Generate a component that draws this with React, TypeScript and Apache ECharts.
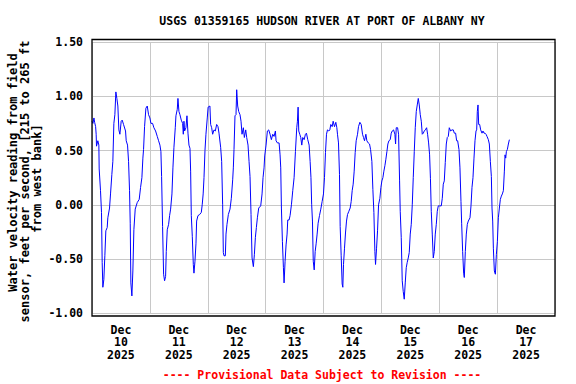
import React, { useEffect, useRef } from "react";
import * as echarts from "echarts";

// Hours since Dec 10 2025 00:00 and water velocity (ft/s)
const HOURS = [
  0.0, 0.4, 0.8, 1.1, 1.5, 1.73, 1.87, 2.42, 2.84, 2.98, 3.53, 3.94, 4.22, 4.5, 4.91, 5.33, 5.74, 6.3, 6.57, 7.27,
  7.68, 8.23, 8.65, 9.07, 9.48, 9.9, 10.31, 10.73, 11.14, 11.56, 12.11, 12.53, 13.08, 13.91, 14.19, 14.74, 15.16, 15.57, 15.85, 16.12,
  16.54, 16.95, 17.37, 17.92, 18.75, 19.58, 20.14, 20.69, 21.1, 21.38, 21.8, 22.35, 22.91, 23.46, 24.01, 24.43, 25.12, 25.67, 26.37, 27.06,
  27.61, 28.17, 28.58, 28.86, 29.27, 29.69, 30.1, 30.52, 30.8, 31.21, 31.77, 32.18, 32.6, 33.15, 33.56, 33.98, 34.53, 34.81, 35.36, 35.64,
  36.05, 36.47, 37.02, 37.58, 37.86, 38.13, 38.41, 38.96, 39.38, 39.8, 40.21, 40.63, 40.9, 41.18, 41.59, 42.01, 42.28, 42.7, 43.11, 43.39,
  43.94, 44.64, 45.33, 45.7, 46.1, 46.45, 46.85, 47.25, 47.8, 48.15, 48.9, 49.2, 49.62, 50.03, 50.59, 51.14, 51.69, 52.25, 52.66, 53.35,
  53.77, 54.18, 54.46, 54.74, 55.29, 55.57, 55.98, 56.54, 57.23, 57.78, 58.34, 58.61, 58.89, 59.3, 59.72, 60.0, 60.41, 60.83, 61.38, 61.8,
  62.21, 62.77, 63.18, 63.74, 64.15, 64.7, 65.12, 65.53, 65.95, 66.37, 66.92, 67.33, 67.75, 68.16, 68.58, 69.13, 69.96, 70.52, 70.93, 71.35,
  71.62, 72.18, 72.73, 73.28, 73.84, 74.39, 74.95, 75.5, 76.05, 76.33, 76.88, 77.58, 77.99, 78.27, 78.55, 78.96, 79.38, 79.65, 80.07, 80.48,
  80.9, 81.18, 81.73, 82.14, 82.7, 83.25, 83.81, 84.36, 84.91, 85.19, 85.47, 85.74, 86.16, 86.57, 86.99, 87.4, 87.96, 88.51, 88.93, 89.48,
  90.04, 90.45, 90.8, 91.1, 91.42, 91.75, 92.15, 92.55, 92.94, 93.36, 93.77, 94.33, 94.88, 95.43, 95.99, 96.41, 96.82, 97.24, 97.65, 98.2,
  98.62, 99.03, 99.59, 100.0, 100.56, 101.11, 101.53, 101.8, 102.22, 102.63, 102.91, 103.33, 103.74, 104.02, 104.29, 104.71, 105.12, 105.54, 105.96, 106.51,
  107.06, 107.48, 107.89, 108.31, 108.72, 109.14, 109.55, 110.11, 110.52, 111.08, 111.63, 112.18, 112.6, 113.01, 113.57, 113.98, 114.54, 115.09, 115.51, 116.06,
  116.48, 116.89, 117.31, 117.58, 118.0, 118.41, 118.83, 119.38, 119.8, 120.21, 120.63, 121.04, 121.46, 121.87, 122.29, 122.7, 123.12, 123.67, 124.09, 124.5,
  125.06, 125.61, 125.89, 126.16, 126.72, 127.13, 127.55, 127.82, 128.24, 128.65, 129.07, 129.48, 129.9, 130.31, 130.73, 131.14, 131.56, 131.97, 132.39, 132.81,
  133.22, 133.64, 134.05, 134.47, 134.88, 135.3, 135.71, 136.13, 136.55, 136.96, 137.38, 137.79, 138.21, 138.76, 139.17, 139.59, 140.0, 140.35, 140.69, 141.11,
  141.52, 141.94, 142.35, 142.77, 143.18, 143.6, 144.15, 144.84, 145.26, 145.67, 146.09, 146.5, 146.92, 147.33, 147.75, 148.16, 148.72, 149.27, 149.83, 150.24,
  150.79, 151.21, 151.63, 152.18, 152.59, 153.01, 153.29, 153.7, 154.12, 154.39, 154.81, 155.22, 155.64, 156.05, 156.75, 157.16, 157.58, 157.99, 158.41, 158.82,
  159.24, 159.52, 159.79, 160.07, 160.35, 160.76, 161.18, 161.73, 162.14, 162.56, 162.98, 163.39, 163.81, 164.36, 164.77, 165.19, 165.61, 165.88, 166.16, 166.44,
  166.85, 167.27, 167.68, 168.1, 168.51, 168.93, 169.34, 169.76, 170.17, 170.59, 171.0, 171.28, 171.56, 171.84, 172.25, 172.67, 173.08,
];

const VELOCITY = [
  0.77, 0.75, 0.8, 0.76, 0.72, 0.65, 0.54, 0.59, 0.55, 0.33, 0.13, -0.07, -0.53, -0.76, -0.69, -0.47, -0.24, -0.21, -0.12, -0.03,
  0.1, 0.28, 0.4, 0.75, 0.83, 1.04, 0.98, 0.91, 0.69, 0.65, 0.77, 0.78, 0.74, 0.68, 0.59, 0.55, 0.4, 0.13, -0.17, -0.72,
  -0.84, -0.61, -0.23, -0.04, 0.02, 0.05, 0.16, 0.25, 0.43, 0.51, 0.72, 0.89, 0.91, 0.83, 0.8, 0.75, 0.75, 0.71, 0.68, 0.63,
  0.59, 0.55, 0.49, 0.26, -0.2, -0.64, -0.7, -0.66, -0.43, -0.23, -0.18, -0.1, -0.04, 0.1, 0.34, 0.53, 0.71, 0.82, 0.88, 0.98,
  0.86, 0.83, 0.78, 0.75, 0.65, 0.77, 0.68, 0.71, 0.82, 0.66, 0.55, 0.52, 0.31, -0.1, -0.29, -0.55, -0.63, -0.52, -0.36, -0.15,
  -0.1, -0.09, -0.07, 0.0, 0.1, 0.25, 0.5, 0.65, 0.8, 0.9, 0.91, 0.74, 0.71, 0.65, 0.69, 0.68, 0.74, 0.72, 0.66, 0.53,
  0.4, 0.0, -0.44, -0.47, -0.47, -0.27, -0.18, -0.09, -0.04, 0.06, 0.23, 0.34, 0.51, 0.82, 0.83, 1.06, 0.91, 0.86, 0.83, 0.77,
  0.65, 0.71, 0.62, 0.69, 0.62, 0.55, 0.4, 0.26, -0.09, -0.49, -0.57, -0.46, -0.3, -0.21, -0.12, -0.03, -0.01, 0.1, 0.25, 0.34,
  0.45, 0.55, 0.68, 0.69, 0.65, 0.6, 0.65, 0.63, 0.68, 0.59, 0.57, 0.57, 0.46, 0.34, -0.03, -0.34, -0.58, -0.72, -0.52, -0.37,
  -0.27, -0.14, -0.14, -0.1, 0.0, 0.13, 0.25, 0.49, 0.71, 0.77, 0.9, 0.68, 0.65, 0.62, 0.55, 0.62, 0.6, 0.65, 0.66, 0.6,
  0.55, 0.4, 0.25, 0.0, -0.15, -0.52, -0.6, -0.43, -0.36, -0.27, -0.17, -0.1, -0.04, 0.03, 0.1, 0.25, 0.48, 0.65, 0.69, 0.68,
  0.69, 0.74, 0.72, 0.77, 0.72, 0.76, 0.71, 0.65, 0.57, 0.28, -0.2, -0.47, -0.73, -0.76, -0.55, -0.4, -0.26, -0.15, -0.09, -0.06,
  -0.03, 0.03, 0.13, 0.19, 0.31, 0.48, 0.59, 0.65, 0.72, 0.76, 0.74, 0.65, 0.62, 0.59, 0.65, 0.59, 0.57, 0.56, 0.51, 0.4,
  0.14, -0.07, -0.43, -0.55, -0.4, -0.24, 0.0, 0.06, 0.16, 0.22, 0.25, 0.31, 0.36, 0.42, 0.49, 0.56, 0.59, 0.6, 0.66, 0.68,
  0.69, 0.65, 0.56, 0.71, 0.71, 0.65, 0.22, -0.06, -0.3, -0.7, -0.8, -0.87, -0.72, -0.58, -0.53, -0.49, -0.44, -0.27, -0.18, 0.0,
  0.25, 0.49, 0.71, 0.86, 0.92, 0.98, 0.92, 0.83, 0.77, 0.65, 0.66, 0.68, 0.69, 0.71, 0.65, 0.57, 0.46, 0.24, -0.06, -0.27,
  -0.49, -0.43, -0.27, -0.18, -0.06, -0.01, -0.01, -0.01, 0.06, 0.19, 0.22, 0.39, 0.56, 0.62, 0.63, 0.71, 0.68, 0.69, 0.69, 0.66,
  0.66, 0.59, 0.59, 0.51, 0.34, 0.03, -0.17, -0.43, -0.63, -0.67, -0.43, -0.27, -0.18, -0.15, -0.12, -0.01, 0.16, 0.25, 0.43, 0.59,
  0.68, 0.69, 0.86, 0.92, 0.74, 0.74, 0.69, 0.66, 0.68, 0.66, 0.66, 0.65, 0.63, 0.6, 0.56, 0.4, 0.26, -0.03, -0.15, -0.4,
  -0.61, -0.64, -0.46, -0.34, -0.12, -0.03, 0.05, 0.08, 0.1, 0.13, 0.31, 0.46, 0.43, 0.49, 0.51, 0.56, 0.6,
];

const MONTH = "Dec";
const YEAR = "2025";
const DAYS = ["10", "11", "12", "13", "14", "15", "16", "17"];
const Y_MIN = -1.0;
const Y_MAX = 1.5;
const Y_STEP = 0.5;

const TITLE = "USGS 01359165 HUDSON RIVER AT PORT OF ALBANY NY";
const Y_NAME_LINES = [
  "Water velocity reading from field",
  "sensor, feet per second, [215 to 265 ft",
  "from west bank]",
];
const FOOTER = "---- Provisional Data Subject to Revision ----";

const FONT = "'DejaVu Sans Mono', 'Liberation Mono', monospace";

export default function App() {
  const ref = useRef<HTMLDivElement>(null);

  useEffect(() => {
    if (!ref.current) return;
    const chart = echarts.init(ref.current, null, { renderer: "svg" });
    const data = HOURS.map((h, i) => [h, VELOCITY[i]]);

    const nameX = [13, 25, 37];
    const nameY = [172.5, 181.5, 178.5];

    chart.setOption({
      animation: false,
      backgroundColor: "#fff",
      grid: { left: 92, top: 42, width: 463, height: 271.3 },
      xAxis: [
        {
          type: "value",
          min: 0,
          max: 192,
          interval: 24,
          axisLine: { show: false },
          axisTick: { show: false },
          axisLabel: { show: false },
          splitLine: { show: true, lineStyle: { color: "#c8c8c8", width: 1 } },
        },
        {
          type: "value",
          min: 0,
          max: 192,
          interval: 12,
          position: "bottom",
          axisLine: { show: false },
          axisTick: { show: false },
          splitLine: { show: false },
          axisLabel: {
            formatter: (v: number) => {
              if (v % 24 !== 12) return "";
              const i = (v - 12) / 24;
              return `${MONTH}\n${DAYS[i]}\n${YEAR}`;
            },
            fontFamily: FONT,
            fontWeight: "bold",
            fontSize: 11.5,
            color: "#000",
            lineHeight: 12.7,
            margin: 10,
          },
        },
      ],
      yAxis: {
        type: "value",
        min: Y_MIN,
        max: Y_MAX,
        interval: Y_STEP,
        axisLine: { show: false },
        axisTick: { show: false },
        splitLine: { show: true, lineStyle: { color: "#c8c8c8", width: 1 } },
        axisLabel: {
          formatter: (v: number) => v.toFixed(2),
          fontFamily: FONT,
          fontWeight: "bold",
          fontSize: 11.5,
          color: "#000",
          margin: 9,
        },
      },
      series: [
        {
          type: "line",
          xAxisIndex: 0,
          data,
          symbol: "none",
          showSymbol: false,
          lineStyle: { color: "#0000ff", width: 1 },
        },
      ],
      graphic: [
        {
          type: "rect",
          shape: { x: 92, y: 39.5, width: 463, height: 276.5 },
          style: { fill: "none", stroke: "#000", lineWidth: 1.3 },
          z: 100,
        },
        {
          type: "text",
          x: 322,
          y: 21,
          style: {
            text: TITLE,
            align: "center",
            verticalAlign: "middle",
            fontFamily: FONT,
            fontWeight: "bold",
            fontSize: 11.5,
            fill: "#000",
          },
        },
        ...Y_NAME_LINES.map((line, i) => ({
          type: "text",
          x: nameX[i],
          y: nameY[i],
          rotation: Math.PI / 2,
          style: {
            text: line,
            align: "center",
            verticalAlign: "middle",
            fontFamily: FONT,
            fontWeight: "bold",
            fontSize: 12,
            fill: "#000",
          },
        })),
        {
          type: "text",
          x: 322,
          y: 375,
          style: {
            text: FOOTER,
            align: "center",
            verticalAlign: "middle",
            fontFamily: FONT,
            fontWeight: "bold",
            fontSize: 11.5,
            fill: "#ff0000",
          },
        },
      ],
    });

    return () => chart.dispose();
  }, []);

  return (
    <div
      ref={ref}
      style={{ position: "fixed", left: 0, top: 0, width: 576, height: 384 }}
    />
  );
}
